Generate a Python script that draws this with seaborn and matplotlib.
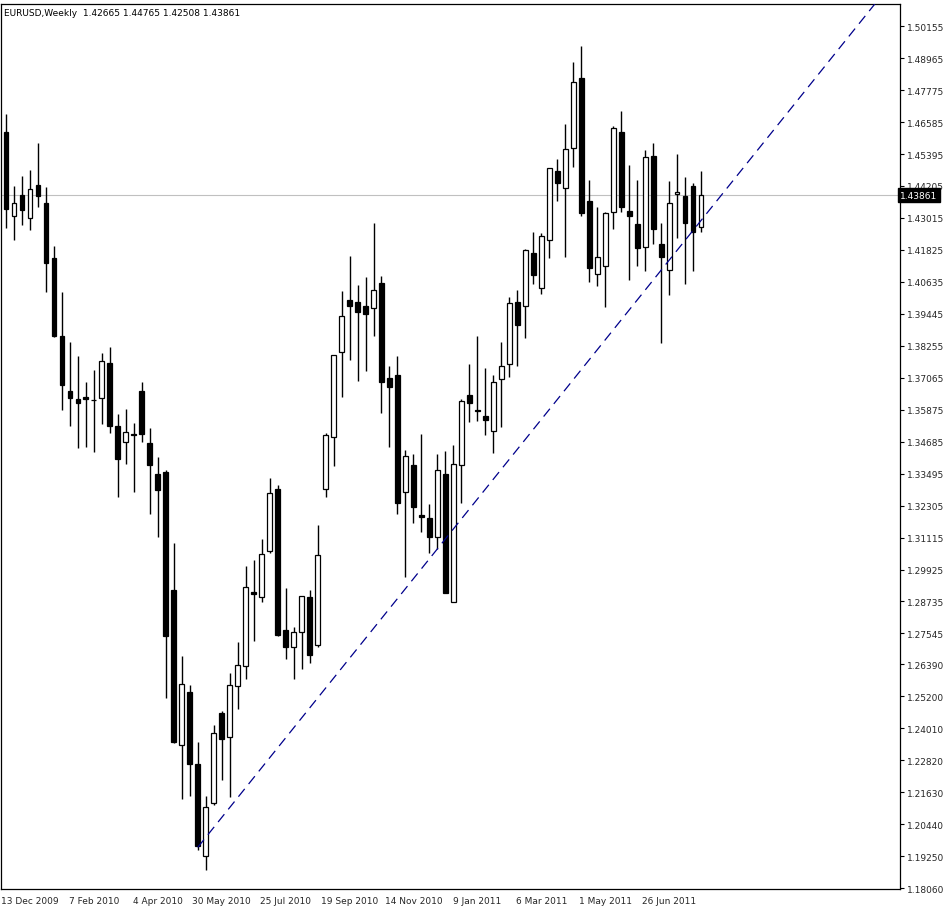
import matplotlib
matplotlib.use("Agg")
import matplotlib.pyplot as plt
import seaborn as sns
import numpy as np
import pandas as pd

opens = [1.4621,1.4308,1.4386,1.4301,1.4424,1.4356,1.4152,1.3861,1.3657,1.3627,
         1.3634,1.3623,1.3630,1.3761,1.3526,1.3467,1.3496,1.3657,1.3463,1.3347,
         1.3355,1.2916,1.2338,1.2536,1.2268,1.1925,1.2123,1.2458,1.2368,1.2558,
         1.2633,1.2908,1.2890,1.3061,1.3292,1.2767,1.2703,1.2759,1.2890,1.2711,
         1.3292,1.3485,1.3802,1.3995,1.3988,1.3973,1.3966,1.4059,1.3705,1.3716,
         1.3280,1.3381,1.3195,1.3184,1.3113,1.3347,1.2871,1.3381,1.3642,1.3586,
         1.3563,1.3508,1.3701,1.3757,1.3988,1.3973,1.4170,1.4040,1.4219,1.4476,
         1.4412,1.4561,1.4822,1.4364,1.4092,1.4122,1.4323,1.4621,1.4327,1.4278,
         1.4193,1.4531,1.4204,1.4107,1.4390,1.4383,1.4420,1.42665]
closes = [1.4334,1.4356,1.4330,1.4409,1.4383,1.4133,1.3861,1.3679,1.3630,1.3612,
          1.3627,1.3623,1.3768,1.3526,1.3403,1.3504,1.3493,1.3496,1.3381,1.3288,
          1.2744,1.2350,1.2566,1.2268,1.1962,1.2108,1.2383,1.2361,1.2562,1.2636,
          1.2927,1.2901,1.3050,1.3277,1.2748,1.2703,1.2759,1.2893,1.2674,1.3046,
          1.3493,1.3791,1.3936,1.3973,1.3951,1.3943,1.4033,1.3690,1.3671,1.3240,
          1.3415,1.3225,1.3187,1.3113,1.3362,1.2904,1.3385,1.3619,1.3612,1.3582,
          1.3549,1.3690,1.3750,1.3984,1.3902,1.4181,1.4088,1.4234,1.4487,1.4431,
          1.4558,1.4807,1.4319,1.4114,1.4155,1.4319,1.4636,1.4342,1.4308,1.4189,
          1.4528,1.4260,1.4155,1.4356,1.4397,1.4282,1.4249,1.43861]
highs = [1.4688,1.4420,1.4457,1.4479,1.4580,1.4416,1.4196,1.4025,1.3839,1.3787,
         1.3690,1.3735,1.3798,1.3820,1.3571,1.3589,1.3537,1.3690,1.3519,1.3411,
         1.3362,1.3091,1.2670,1.2562,1.2350,1.2149,1.2413,1.2465,1.2607,1.2722,
         1.3005,1.3027,1.3105,1.3333,1.3306,1.2923,1.2778,1.2893,1.2916,1.3158,
         1.3500,1.3791,1.4029,1.4159,1.4051,1.4081,1.4282,1.4085,1.3750,1.3787,
         1.3437,1.3422,1.3496,1.3236,1.3422,1.3433,1.3455,1.3627,1.3757,1.3861,
         1.3742,1.3716,1.3839,1.4007,1.4033,1.4185,1.4249,1.4245,1.4487,1.4520,
         1.4651,1.4881,1.4941,1.4442,1.4342,1.4323,1.4643,1.4699,1.4498,1.4442,
         1.4554,1.4580,1.4282,1.4438,1.4539,1.4453,1.4431,1.44765]
lows = [1.4263,1.4219,1.4275,1.4256,1.4342,1.4025,1.3858,1.3586,1.3526,1.3444,
        1.3448,1.3429,1.3534,1.3500,1.3262,1.3385,1.3280,1.3467,1.3199,1.3113,
        1.2513,1.2346,1.2137,1.2149,1.1948,1.1873,1.2116,1.2208,1.2145,1.2473,
        1.2584,1.2726,1.2871,1.3053,1.2744,1.2659,1.2584,1.2621,1.2644,1.2703,
        1.3262,1.3377,1.3634,1.3772,1.3694,1.3731,1.3861,1.3575,1.3448,1.3199,
        1.2964,1.3165,1.3132,1.3053,1.3068,1.2904,1.2871,1.3240,1.3541,1.3545,
        1.3493,1.3426,1.3522,1.3709,1.3750,1.3854,1.4055,1.4018,1.4152,1.4364,
        1.4155,1.4491,1.4308,1.4062,1.4047,1.3969,1.4260,1.4323,1.4070,1.4122,
        1.4103,1.4204,1.3835,1.4014,1.4226,1.4055,1.4103,1.42508]

date_labels = ["13 Dec 2009","7 Feb 2010","4 Apr 2010","30 May 2010","25 Jul 2010",
               "19 Sep 2010","14 Nov 2010","9 Jan 2011","6 Mar 2011","1 May 2011","26 Jun 2011"]
date_label_idx = [3,11,19,27,35,43,51,59,67,75,83]

ytick_vals = [1.50155,1.48965,1.47775,1.46585,1.45395,1.44205,1.43015,1.41825,1.40635,
              1.39445,1.38255,1.37065,1.35875,1.34685,1.33495,1.32305,1.31115,1.29925,
              1.28735,1.27545,1.26390,1.25200,1.24010,1.22820,1.21630,1.20440,1.19250,1.18060]

trend_x = [24, 108.75]
trend_y = [1.1958, 1.5098]

sns.set_style("white")
plt.rcParams['font.family'] = ['DejaVu Sans']

fig = plt.figure(figsize=(9.43, 9.12), dpi=100)
ax = fig.add_axes([1/943, 22/912, 899/943, 885/912])

df = pd.DataFrame({"i": np.arange(len(opens)), "o": opens, "c": closes, "h": highs, "l": lows})
ax.vlines(df["i"], df["l"], df["h"], color="black", linewidth=1.0, zorder=2)
bull = df[df["c"] >= df["o"]]
bear = df[df["c"] < df["o"]]
ax.bar(bull["i"], bull["c"] - bull["o"], bottom=bull["o"], width=0.6,
       facecolor="white", edgecolor="black", linewidth=0.9, zorder=3)
ax.bar(bear["i"], bear["o"] - bear["c"], bottom=bear["c"], width=0.6,
       facecolor="black", edgecolor="black", linewidth=0.9, zorder=3)

trend = pd.DataFrame({"x": trend_x, "y": trend_y})
sns.lineplot(data=trend, x="x", y="y", ax=ax, color="#00008b", linewidth=0.9,
             dashes=False, linestyle=(0, (8, 5)), zorder=4)

last = closes[-1]
ax.axhline(last, color="#c0c0c0", linewidth=0.8, zorder=1)

ax.set_xlim(-0.625, 111.9)
ax.set_ylim(1.1803, 1.5098)
ax.set_xlabel(""); ax.set_ylabel("")
ax.yaxis.tick_right()
ax.set_yticks(ytick_vals)
ax.set_yticklabels([f"{v:.5f}" for v in ytick_vals], fontsize=6.5)
ax.set_xticks(date_label_idx)
ax.set_xticklabels(date_labels, fontsize=6.5)
ax.tick_params(axis="both", length=3, width=0.8, color="black", pad=2, direction="out")
for s in ax.spines.values():
    s.set_color("black"); s.set_linewidth(0.9)

ax.text(1.0, last, f"{last:.5f}", transform=ax.get_yaxis_transform(),
        fontsize=6.5, color="white", va="center", ha="left",
        bbox=dict(boxstyle="square,pad=0.25", facecolor="black", edgecolor="black"),
        zorder=10, clip_on=False)

fig.text(4/943, 1 - 13/912, "EURUSD,Weekly  1.42665 1.44765 1.42508 1.43861",
         fontsize=6.5, color="black", va="center", ha="left")

fig.savefig("out.png", dpi=100, facecolor="white")
